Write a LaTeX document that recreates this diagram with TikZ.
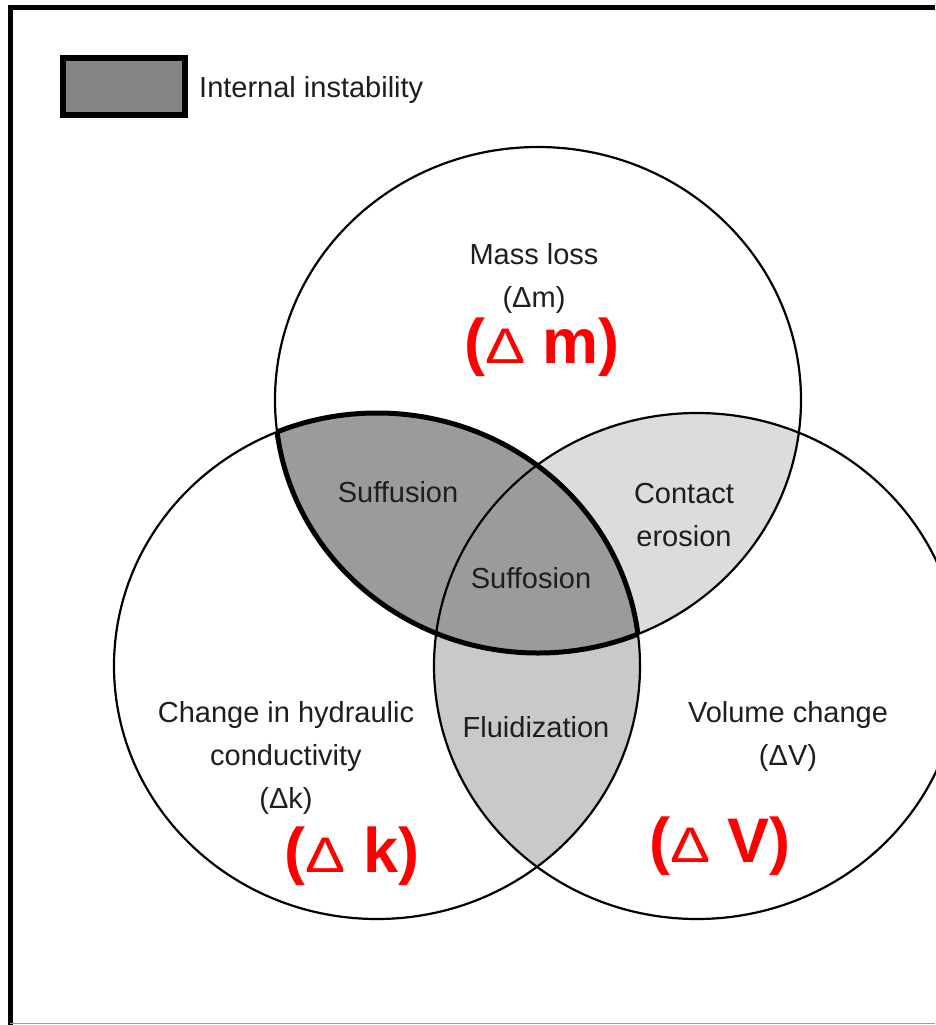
\documentclass[tikz,border=0pt]{standalone}
\usepackage{fontspec}
\usepackage{graphicx}
\setmainfont{Liberation Sans}
\definecolor{ink}{HTML}{1E1E1E}
\definecolor{darkzone}{HTML}{9B9B9B}
\definecolor{midzone}{HTML}{C9C9C9}
\definecolor{lightzone}{HTML}{DCDCDC}
\definecolor{legendfill}{HTML}{848484}
\definecolor{frameshade}{HTML}{9A9A9A}
\definecolor{accent}{HTML}{FF0000}
\newcommand{\delt}{{\mdseries\fontsize{50}{50}\selectfont\scalebox{1.2}[1]{Δ}}}
\begin{document}
\begin{tikzpicture}[x=1pt,y=-1pt,
  lbl/.style={font=\fontsize{29}{43}\selectfont, text=ink, align=center, inner sep=0pt, anchor=base},
  big/.style={font=\bfseries\fontsize{63}{63}\selectfont, text=accent, inner sep=0pt, anchor=base},
  ring/.style={draw=black, line width=2.2pt},
  lens/.style={draw=black, line width=5pt},
  ]
\useasboundingbox (0,0) rectangle (935,1025);

% the three sets
\def\massset{(538,400) ellipse [x radius=263pt, y radius=253pt]}
\def\condset{(377,666) ellipse [x radius=263pt, y radius=253pt]}
\def\volset{(697,666) ellipse [x radius=263pt, y radius=253pt]}

% shaded overlaps
\begin{scope}
  \clip \massset;
  \fill[lightzone] \volset;
\end{scope}
\begin{scope}
  \clip \condset;
  \fill[midzone] \volset;
\end{scope}
\begin{scope}
  \clip \massset;
  \fill[darkzone] \condset;
\end{scope}

% outlines
\draw[ring] \massset;
\draw[ring] \condset;
\draw[ring] \volset;

% heavy outline of the internal-instability lens
\begin{scope}
  \clip \condset;
  \draw[lens] \massset;
\end{scope}
\begin{scope}
  \clip \massset;
  \draw[lens] \condset;
\end{scope}

% frame
\draw[line width=4.5pt] (10.3,1025) -- (10.3,7.5) -- (935,7.5);
\draw[frameshade, line width=1.5pt] (10.3,1023.5) -- (935,1023.5);

% legend
\node[draw=black, line width=6pt, fill=legendfill, minimum width=122pt, minimum height=57pt, inner sep=0pt] (key) at (124,86.5) {};
\node[lbl, anchor=base west] (keytext) at (199,97) {Internal instability};

% set labels (multi-line nodes are placed by the baseline of their last line)
\node[lbl] (mass) at (534,307) {Mass loss\\(Δm)};
\node[big] (massbig) at (542,363) {(\delt\ m)};
\node[lbl] (cond) at (286,808) {Change in hydraulic\\conductivity\\(Δk)};
\node[big] (condbig) at (352,872) {(\delt\ k)};
\node[lbl] (vol) at (788,765) {Volume change\\(ΔV)};
\node[big] (volbig) at (720,862) {(\delt\ V)};

% overlap labels
\node[lbl] (suffusion) at (398,502) {Suffusion};
\node[lbl] (contact) at (684,546) {Contact\\erosion};
\node[lbl] (suffosion) at (531,588) {Suffosion};
\node[lbl] (fluid) at (536,737) {Fluidization};
\end{tikzpicture}
\end{document}
